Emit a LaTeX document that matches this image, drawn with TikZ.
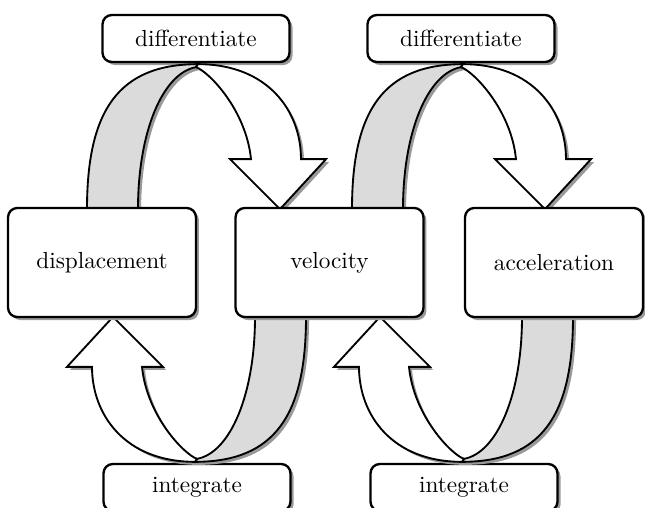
\documentclass[tikz,border=0pt]{standalone}
\usetikzlibrary{
    shadows
}
\tikzset{
  every path/.style={
    line width=0.8pt
  },
  quantity/.style={
    draw,
    rounded corners=4pt,
    fill=white,
    line width=1pt,
    minimum width=80.8pt,
    minimum height=46.9pt,
    drop shadow={shadow xshift=1.3pt,shadow yshift=-1.3pt,fill=black!40,opacity=1}
  },
  operation/.style={
    quantity,
    minimum width=80.4pt,
    minimum height=20.2pt
  },
  ribbon/.pic={
    % shadow
    \path[drop shadow={shadow xshift=1.3pt,shadow yshift=-1.3pt,fill=black!40,opacity=1}]
      (-109,146) .. controls (-109,48) and (-78,1) .. (2,1)
      .. controls (72,1) and (105,48) .. (105,96) -- (130,96) -- (84,146) -- (34,96) -- (55,96)
      .. controls (50,46) and (12,8) .. (0,4)
      .. controls (-33,10) and (-58,68) .. (-58,146) -- cycle;
    % back side
    \filldraw[fill=black!14] (-109,146) .. controls (-109,48) and (-78,1) .. (2,1) -- (0,4)
      .. controls (-33,10) and (-58,68) .. (-58,146) -- cycle;
    % front side
    \filldraw[fill=white] (0,4) .. controls (12,8) and (50,46) .. (55,96) -- (34,96) -- (84,146)
      -- (130,96) -- (105,96) .. controls (105,48) and (72,1) .. (2,1) -- cycle;
  }
}

\begin{document}
\begin{tikzpicture}[x=0.43pt,y=-0.43pt]
    \useasboundingbox (0,0) rectangle (645,508);

    % operations
    \node[operation] (diff1) at (196,38.5) {differentiate};
    \node[operation] (diff2) at (461,38.5) {differentiate};
    \node[operation] (int1) at (197,487.5) {integrate};
    \node[operation] (int2) at (464,487.5) {integrate};

    % arrows
    \pic at (diff1.south) {ribbon};
    \pic at (diff2.south) {ribbon};
    \pic[rotate=180] at (int1.north) {ribbon};
    \pic[rotate=180] at (int2.north) {ribbon};

    % quantities
    \node[quantity] (disp) at (102,262.5) {displacement};
    \node[quantity] (vel) at (329.5,262.5) {velocity};
    \node[quantity,minimum width=76.5pt] (acc) at (554,262.5) {acceleration};
\end{tikzpicture}
\end{document}
